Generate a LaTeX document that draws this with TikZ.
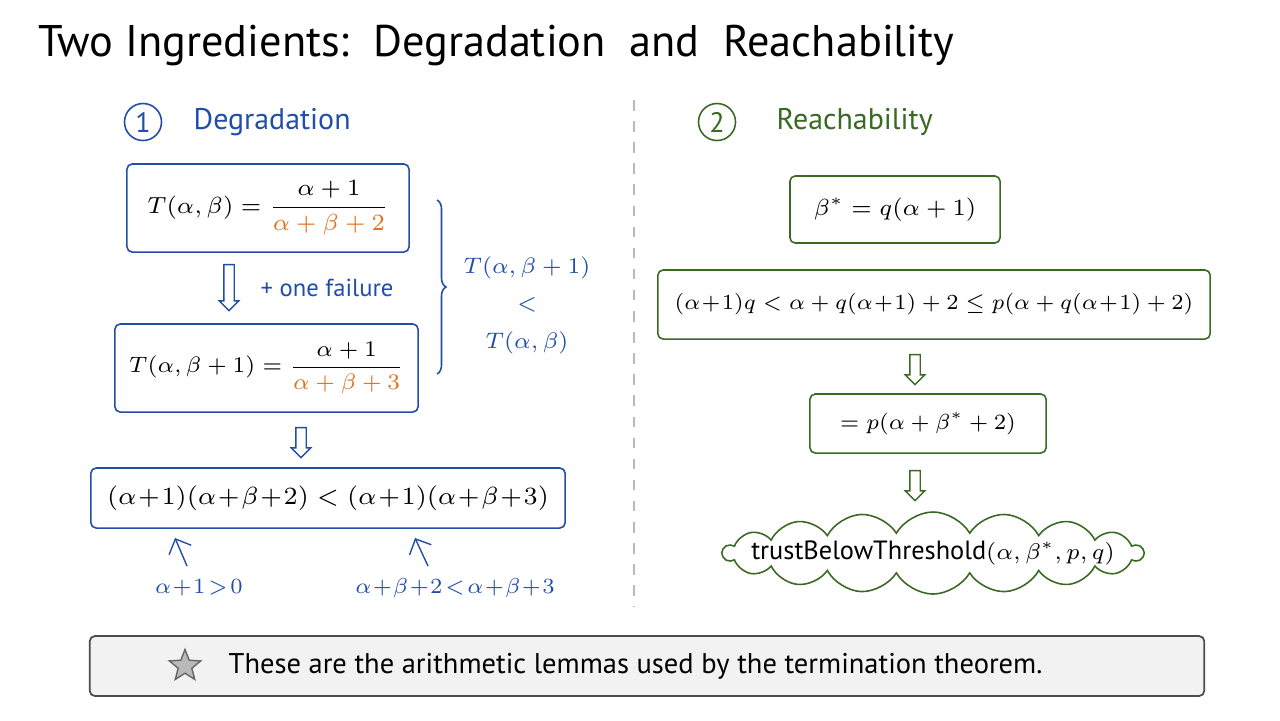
\RequirePackage{fix-cm}
\documentclass[tikz,border=0pt]{standalone}
\usepackage{amsmath}
\usepackage{graphicx}
\usepackage[no-math]{fontspec}
\setmainfont{PT Sans}
\usetikzlibrary{arrows.meta, positioning, calc, shapes.arrows, shapes.symbols, shapes.geometric, decorations.pathreplacing}

\definecolor{degblue}{RGB}{32,78,168}
\definecolor{reachgreen}{RGB}{58,106,34}
\definecolor{denom}{RGB}{226,112,30}
\definecolor{notefill}{RGB}{242,242,242}

% shrink a formula by a factor
\newcommand{\fml}[2]{\scalebox{#1}{$#2$}}

\begin{document}
\begin{tikzpicture}[
  x=0.01cm, y=-0.01cm,
  every node/.style={inner sep=0pt},
  mathsz/.style={font=\fontsize{7.2}{9}\selectfont},
  box/.style={draw, rounded corners=1.5pt, line width=0.45pt, align=center, mathsz},
  degbox/.style={box, draw=degblue},
  reachbox/.style={box, draw=reachgreen},
  head/.style={font=\fontsize{8.5}{10}\selectfont},
  numcirc/.style={circle, draw, line width=0.45pt, minimum size=0.37cm, font=\fontsize{8}{10}\selectfont},
  hollow/.style={single arrow, draw, line width=0.4pt, fill=white, rotate=-90, inner sep=0.045cm,
    single arrow head extend=0.045cm, single arrow head indent=0pt},
  thinarr/.style={-{Straight Barb[length=1.2mm]}, line width=0.4pt, degblue},
  note/.style={font=\fontsize{7}{9}\selectfont, degblue},
  cmp/.style={note, font=\fontsize{7.5}{9}\selectfont},
]
\useasboundingbox (0,0) rectangle (1280,720);

% title
\node[anchor=west, font=\fontsize{12.6}{15}\selectfont] (title) at (38,45)
  {Two Ingredients:\ \ Degradation\ \ and\ \ Reachability};

% separator
\draw[gray!55, dashed, line width=0.4pt] (634,100) -- (634,607);

% 1 degradation
\node[numcirc, draw=degblue, text=degblue] (n1) at (143,122) {1};
\node[head, text=degblue, anchor=west] (deg) at (193,122) {Degradation};

\node[degbox, minimum width=2.82cm, minimum height=0.88cm] (t0) at (268,208)
  {\fml{0.92}{T(\alpha,\beta)=\dfrac{\alpha+1}{\color{denom}\alpha+\beta+2}}};
\node[degbox, minimum width=3.03cm, minimum height=0.88cm] (t1) at (266.5,368)
  {\fml{0.88}{T(\alpha,\beta+1)=\dfrac{\alpha+1}{\color{denom}\alpha+\beta+3}}};
\node[degbox, minimum width=4.74cm, minimum height=0.60cm] (cross) at (328,498)
  {\fml{0.98}{(\alpha\!+\!1)(\alpha\!+\!\beta\!+\!2) < (\alpha\!+\!1)(\alpha\!+\!\beta\!+\!3)}};

\node[hollow, draw=degblue, minimum height=0.46cm] (d1) at (229,285) {};
\node[note, anchor=west] (fail) at (260,288) {+ one failure};
\node[hollow, draw=degblue, minimum height=0.30cm] (d2) at (301,440) {};

% brace and comparison
\coordinate (btop) at (437,200);
\coordinate (bbot) at (437,374);
\draw[degblue, line width=0.45pt, decorate, decoration={brace, amplitude=0.09cm}] (btop) -- (bbot);
\node[cmp] (cmpa) at (527,268) {\fml{0.85}{T(\alpha,\beta+1)}};
\node[cmp] (cmplt) at (527,305) {\fml{0.85}{<}};
\node[cmp] (cmpb) at (527,343) {\fml{0.85}{T(\alpha,\beta)}};

% reasons
\node[note] (pos) at (199,588) {\fml{0.88}{\alpha\!+\!1\!>\!0}};
\node[note] (mono) at (455,588) {\fml{0.88}{\alpha\!+\!\beta\!+\!2\!<\!\alpha\!+\!\beta\!+\!3}};
\coordinate (pos tip) at (175,538);
\coordinate (mono tip) at (415,538);
\draw[thinarr] (187,566) -- (pos tip);
\draw[thinarr] (428,566) -- (mono tip);

% 2 reachability
\node[numcirc, draw=reachgreen, text=reachgreen] (n2) at (717,122) {2};
\node[head, text=reachgreen, anchor=west] (reach) at (776,122) {Reachability};

\node[reachbox, minimum width=2.10cm, minimum height=0.67cm] (bstar) at (895,209.5)
  {\fml{0.92}{\beta^{*}=q(\alpha+1)}};
\node[reachbox, minimum width=5.52cm, minimum height=0.69cm] (chain) at (934,304.5)
  {\fml{0.85}{(\alpha\!+\!1)q<\alpha+q(\alpha\!+\!1)+2\le p(\alpha+q(\alpha\!+\!1)+2)}};
\node[reachbox, minimum width=2.36cm, minimum height=0.59cm] (eqp) at (928,423.5)
  {\fml{0.86}{=p(\alpha+\beta^{*}+2)}};
\node[cloud, draw=reachgreen, line width=0.45pt, cloud puffs=18, cloud puff arc=120, aspect=5.2,
  minimum width=4.2cm, minimum height=0.82cm] (goalcloud) at (933,553) {};
\node[font=\fontsize{7.5}{9}\selectfont] (goal) at (goalcloud.center)
  {trustBelowThreshold\fml{0.86}{(\alpha,\beta^{*},p,q)}};

\node[hollow, draw=reachgreen, minimum height=0.30cm] (d3) at (915,367) {};
\node[hollow, draw=reachgreen, minimum height=0.30cm] (d4) at (915,483) {};

% bottom note
\node[draw=black!70, fill=notefill, line width=0.5pt, rounded corners=1.5pt,
  minimum width=11.14cm, minimum height=0.60cm] (bar) at (647,666) {};
\node[star, star points=5, star point ratio=2.3, draw=black!60, fill=gray!55, line width=0.4pt,
  minimum size=0.33cm] (mark) at (185,666) {};
\node[anchor=west, font=\fontsize{8.1}{10}\selectfont] (msg) at (228,666)
  {These are the arithmetic lemmas used by the termination theorem.};
\end{tikzpicture}
\end{document}
